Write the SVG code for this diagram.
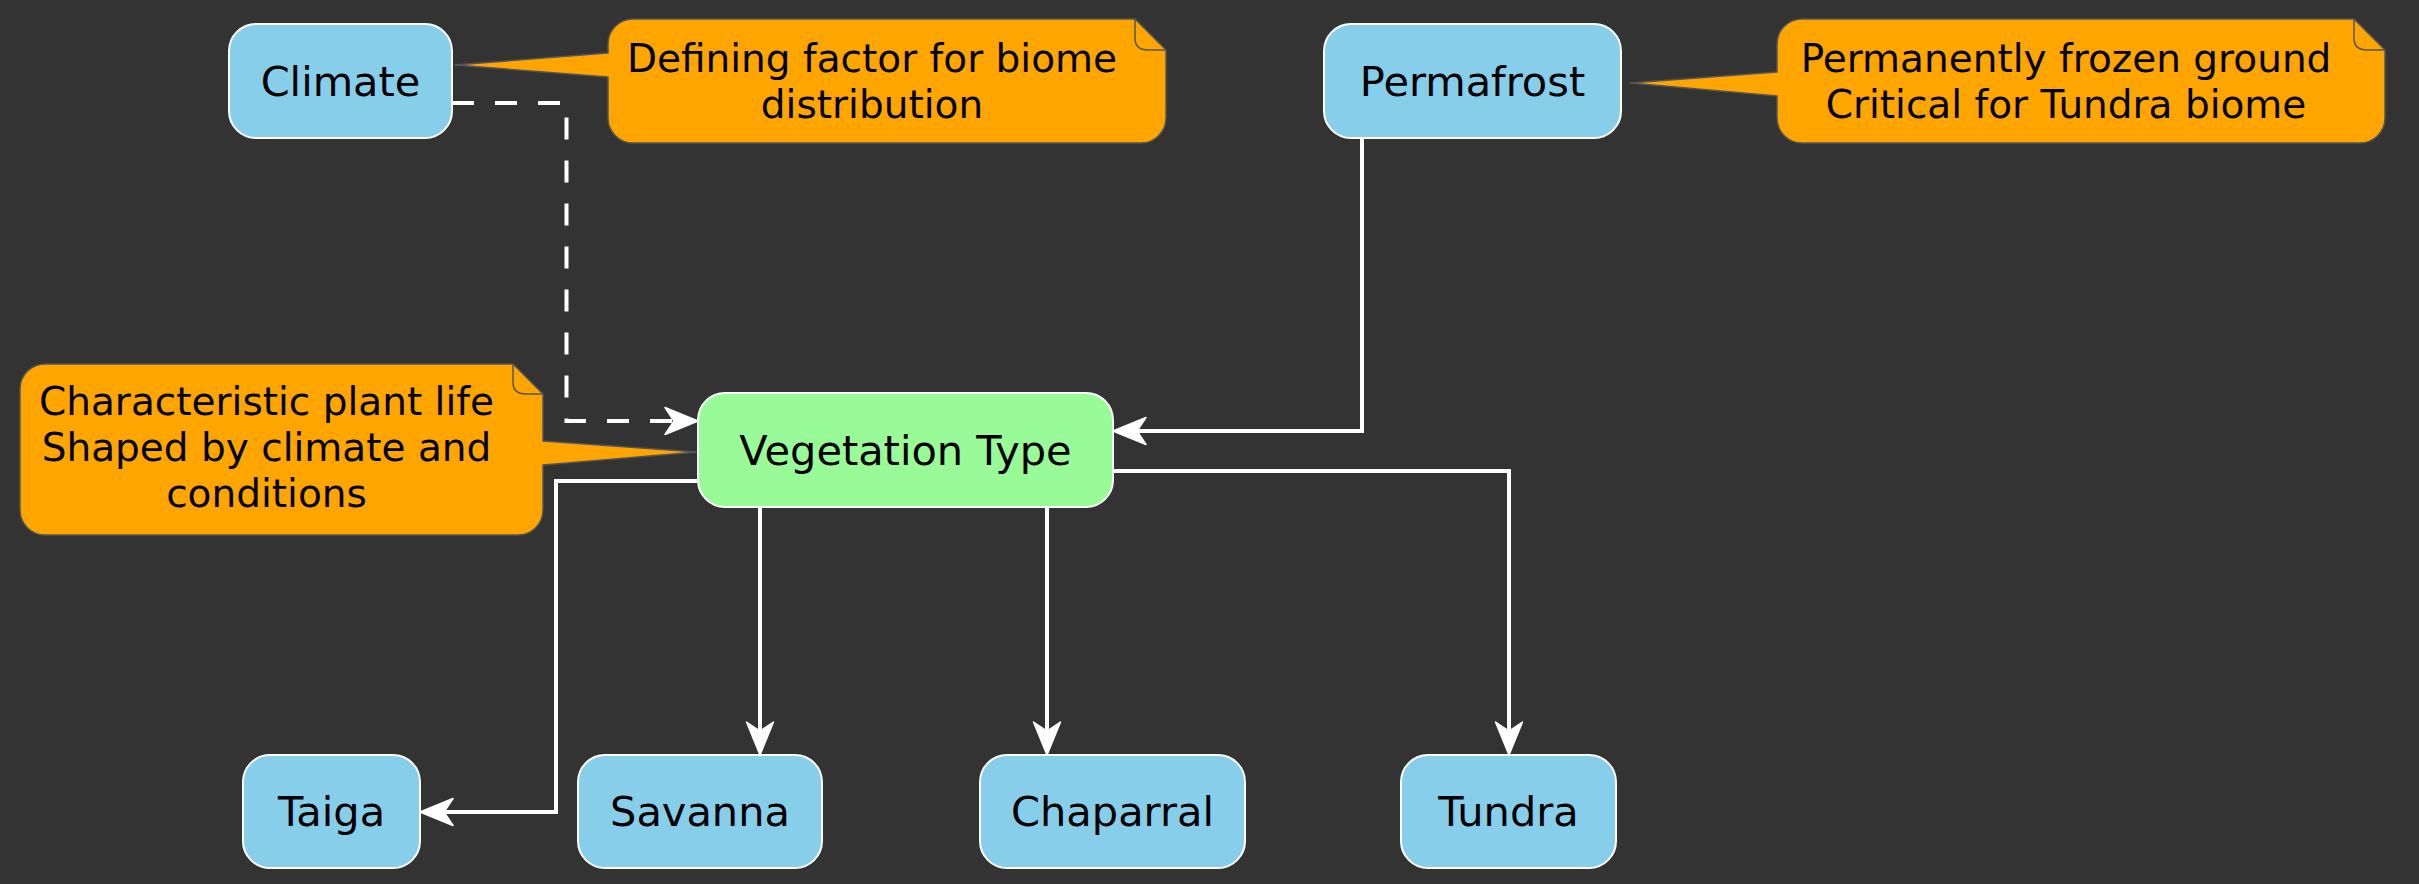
<svg xmlns="http://www.w3.org/2000/svg" width="2419" height="884" viewBox="0 0 2419 884">
  <style>
    .node rect { stroke: #ffffff; stroke-width: 2; }
    .blue { fill: #87CEEB; }
    .green { fill: #98FB98; }
    .label { font-family: "DejaVu Sans", "Liberation Sans", sans-serif; font-size: 41.5px; fill: #000000; text-anchor: middle; }
    .note-body { fill: #FFA500; stroke: #555555; stroke-width: 1.5; stroke-linejoin: round; }
    .fold { fill: none; stroke: #555555; stroke-width: 1.5; }
    .note-text { font-family: "DejaVu Sans", "Liberation Sans", sans-serif; font-size: 39px; fill: #000000; text-anchor: middle; }
    .edge { fill: none; stroke: #ffffff; stroke-width: 4; }
    .dashed { stroke-dasharray: 22 21; }
  </style>
  <defs>
    <marker id="arrow" markerUnits="userSpaceOnUse" viewBox="-40 -18 42 36" markerWidth="42" markerHeight="36" refX="-5" refY="0" orient="auto">
      <path d="M0,0 L-33,-13.5 L-24,0 L-33,13.5 Z" fill="#ffffff" stroke="#ffffff" stroke-width="1.5" stroke-linejoin="round"/>
    </marker>
  </defs>
  <rect x="0" y="0" width="2419" height="884" fill="#333333"/>

  <g id="connectors">
    <path class="edge dashed" d="M452,103 H566.5 V421 H693" marker-end="url(#arrow)"/>
    <path class="edge" d="M1362,138 V431 H1118" marker-end="url(#arrow)"/>
    <path class="edge" d="M698,481 H556 V812 H425" marker-end="url(#arrow)"/>
    <path class="edge" d="M760,507 V750" marker-end="url(#arrow)"/>
    <path class="edge" d="M1047,507 V750" marker-end="url(#arrow)"/>
    <path class="edge" d="M1113,471 H1509 V750" marker-end="url(#arrow)"/>
  </g>

  <g id="note-climate">
    <path class="note-body" d="M633,19 L1135,19 L1166,50 L1166,118 A25,25 0 0 1 1141,143 L633,143 A25,25 0 0 1 608,118 L608,77 L455,65 L608,53 L608,44 A25,25 0 0 1 633,19 Z"/>
    <path class="fold" d="M1135,19 L1135,38 Q1135,50 1148,50 L1166,50"/>
    <text class="note-text" x="872" y="72">Defining factor for biome</text>
    <text class="note-text" x="872" y="118">distribution</text>
  </g>

  <g id="note-permafrost">
    <path class="note-body" d="M1802,19 L2354,19 L2385,50 L2385,118 A25,25 0 0 1 2360,143 L1802,143 A25,25 0 0 1 1777,118 L1777,96 L1630,83 L1777,72 L1777,44 A25,25 0 0 1 1802,19 Z"/>
    <path class="fold" d="M2354,19 L2354,38 Q2354,50 2367,50 L2385,50"/>
    <text class="note-text" x="2066" y="72">Permanently frozen ground</text>
    <text class="note-text" x="2066" y="118">Critical for Tundra biome</text>
  </g>

  <g id="note-vegetation">
    <path class="note-body" d="M45,364 L513,364 L543,394 L543,441 L697,452 L543,465 L543,510 A25,25 0 0 1 518,535 L45,535 A25,25 0 0 1 20,510 L20,389 A25,25 0 0 1 45,364 Z"/>
    <path class="fold" d="M513,364 L513,382 Q513,394 526,394 L543,394"/>
    <text class="note-text" x="266.5" y="415">Characteristic plant life</text>
    <text class="note-text" x="266.5" y="461">Shaped by climate and</text>
    <text class="note-text" x="266.5" y="507">conditions</text>
  </g>

  <g id="node-climate" class="node">
    <rect class="blue" x="229" y="24" width="223" height="114" rx="27" ry="27"/>
    <text class="label" x="340.5" y="96">Climate</text>
  </g>
  <g id="node-permafrost" class="node">
    <rect class="blue" x="1324" y="24" width="297" height="114" rx="27" ry="27"/>
    <text class="label" x="1472.5" y="96">Permafrost</text>
  </g>
  <g id="node-vegetation" class="node">
    <rect class="green" x="698" y="393" width="415" height="114" rx="27" ry="27"/>
    <text class="label" x="905.5" y="465">Vegetation Type</text>
  </g>
  <g id="node-taiga" class="node">
    <rect class="blue" x="243" y="755" width="177" height="113" rx="27" ry="27"/>
    <text class="label" x="331.5" y="826">Taiga</text>
  </g>
  <g id="node-savanna" class="node">
    <rect class="blue" x="578" y="755" width="244" height="113" rx="27" ry="27"/>
    <text class="label" x="700" y="826">Savanna</text>
  </g>
  <g id="node-chaparral" class="node">
    <rect class="blue" x="980" y="755" width="265" height="113" rx="27" ry="27"/>
    <text class="label" x="1112.5" y="826">Chaparral</text>
  </g>
  <g id="node-tundra" class="node">
    <rect class="blue" x="1401" y="755" width="215" height="113" rx="27" ry="27"/>
    <text class="label" x="1508.5" y="826">Tundra</text>
  </g>
</svg>
